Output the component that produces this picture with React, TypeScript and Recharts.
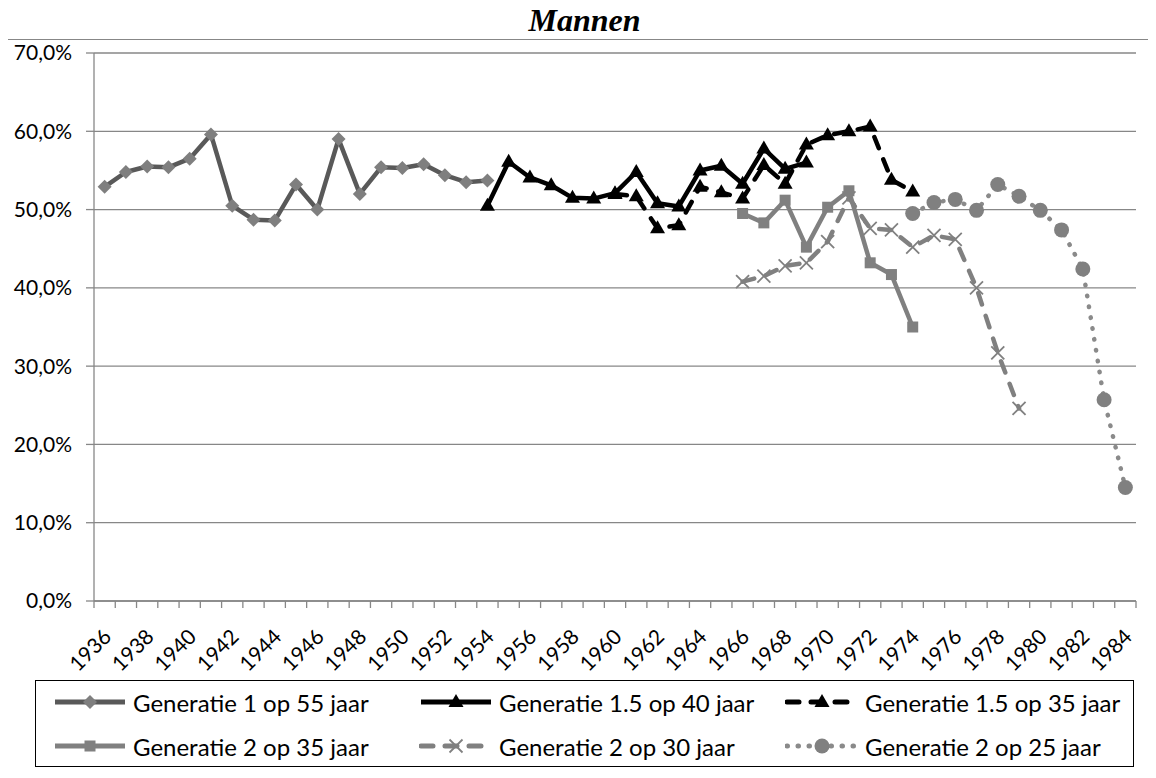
import React from 'react';
import { LineChart, Line, XAxis, YAxis, CartesianGrid } from 'recharts';

// categories (birth years) and axis ticks
const years = [
  1936, 1937, 1938, 1939, 1940, 1941, 1942, 1943, 1944, 1945, 1946, 1947, 1948, 1949, 1950, 1951, 1952,
  1953, 1954, 1955, 1956, 1957, 1958, 1959, 1960, 1961, 1962, 1963, 1964, 1965, 1966, 1967, 1968, 1969,
  1970, 1971, 1972, 1973, 1974, 1975, 1976, 1977, 1978, 1979, 1980, 1981, 1982, 1983, 1984,
];
const yearLabels = [
  1936, 1938, 1940, 1942, 1944, 1946, 1948, 1950, 1952, 1954, 1956, 1958, 1960, 1962, 1964, 1966, 1968,
  1970, 1972, 1974, 1976, 1978, 1980, 1982, 1984,
];
const yTicks = [0, 10, 20, 30, 40, 50, 60, 70];

// series values (%), each starting at its first birth year
const gen1Start = 1936;
const gen1 = [52.9, 54.8, 55.5, 55.4, 56.5, 59.6, 50.5, 48.7, 48.6, 53.2, 50.0, 59.0, 52.0, 55.4, 55.3, 55.8, 54.4, 53.5, 53.7];

const gen15a40Start = 1954;
const gen15a40 = [50.5, 56.1, 54.1, 53.1, 51.5, 51.4, 52.1, 54.8, 50.8, 50.4, 55.0, 55.6, 53.3, 57.8, 55.2, 56.0];

const gen15a35Start = 1960;
const gen15a35 = [52.0, 51.7, 47.6, 48.0, 52.9, 52.2, 51.4, 55.7, 53.3, 58.3, 59.5, 60.0, 60.6, 53.8, 52.3];

const gen2a35Start = 1966;
const gen2a35 = [49.5, 48.3, 51.2, 45.2, 50.3, 52.4, 43.2, 41.7, 35.0];

const gen2a30Start = 1966;
const gen2a30 = [40.8, 41.5, 42.8, 43.2, 45.9, 51.5, 47.6, 47.4, 45.2, 46.7, 46.2, 40.0, 31.7, 24.6];

const gen2a25Start = 1974;
const gen2a25 = [49.5, 50.9, 51.3, 49.9, 53.2, 51.7, 49.9, 47.4, 42.4, 25.7, 14.5];

const pick = (vals: number[], start: number, year: number) =>
  year >= start && year < start + vals.length ? vals[year - start] : null;

const data = years.map((year) => ({
  year,
  g1: pick(gen1, gen1Start, year),
  g15a40: pick(gen15a40, gen15a40Start, year),
  g15a35: pick(gen15a35, gen15a35Start, year),
  g2a35: pick(gen2a35, gen2a35Start, year),
  g2a30: pick(gen2a30, gen2a30Start, year),
  g2a25: pick(gen2a25, gen2a25Start, year),
}));

// tick marks sit between the categories, like Excel
const boundaries = years.map((y) => y - 0.5).concat(years[years.length - 1] + 0.5);
const xDomain = [boundaries[0], boundaries[boundaries.length - 1]];

const FONT = 'Lato, "Open Sans", sans-serif';
const AXIS = '#878787';

type Shape = 'diamond' | 'triangle' | 'square' | 'cross' | 'circle';

function Marker({ shape, cx, cy, color }: { shape: Shape; cx: number; cy: number; color: string }) {
  switch (shape) {
    case 'diamond':
      return <polygon points={`${cx},${cy - 7} ${cx + 7},${cy} ${cx},${cy + 7} ${cx - 7},${cy}`} fill={color} />;
    case 'triangle':
      return <polygon points={`${cx},${cy - 8} ${cx + 7.5},${cy + 5} ${cx - 7.5},${cy + 5}`} fill={color} />;
    case 'square':
      return <rect x={cx - 5.5} y={cy - 5.5} width={11} height={11} fill={color} />;
    case 'cross':
      return (
        <g stroke={color} strokeWidth={1.8}>
          <line x1={cx - 6.5} y1={cy - 6.5} x2={cx + 6.5} y2={cy + 6.5} />
          <line x1={cx - 6.5} y1={cy + 6.5} x2={cx + 6.5} y2={cy - 6.5} />
        </g>
      );
    default:
      return <circle cx={cx} cy={cy} r={7.5} fill={color} />;
  }
}

const series = [
  { key: 'g1', name: 'Generatie 1 op 55 jaar', stroke: '#595959', marker: '#7f7f7f', shape: 'diamond' as Shape, dash: undefined },
  { key: 'g15a40', name: 'Generatie 1.5 op 40 jaar', stroke: '#000000', marker: '#000000', shape: 'triangle' as Shape, dash: undefined },
  { key: 'g15a35', name: 'Generatie 1.5 op 35 jaar', stroke: '#000000', marker: '#000000', shape: 'triangle' as Shape, dash: '12 12' },
  { key: 'g2a35', name: 'Generatie 2 op 35 jaar', stroke: '#808080', marker: '#808080', shape: 'square' as Shape, dash: undefined },
  { key: 'g2a30', name: 'Generatie 2 op 30 jaar', stroke: '#808080', marker: '#808080', shape: 'cross' as Shape, dash: '12 12' },
  { key: 'g2a25', name: 'Generatie 2 op 25 jaar', stroke: '#8a8a8a', marker: '#808080', shape: 'circle' as Shape, dash: '0.5 10.5' },
];

const fmtPct = (v: number) => v.toFixed(1).replace('.', ',') + '%';

function YearTick(props: any) {
  const { x, y, payload } = props;
  const ax = x + 2;
  const ay = y + 23;
  return (
    <text
      x={ax}
      y={ay}
      transform={`rotate(-45, ${ax}, ${ay})`}
      textAnchor="end"
      dominantBaseline="central"
      fontSize={21}
      fontFamily={FONT}
      fill="#000"
    >
      {payload.value}
    </text>
  );
}

// tick marks only, no labels
function NoLabel() {
  return <g />;
}

function LegendBox() {
  return (
    <div
      style={{
        position: 'absolute',
        left: 27,
        top: 672,
        width: 1099,
        height: 87,
        boxSizing: 'border-box',
        border: '1.5px solid #000',
        fontFamily: FONT,
        fontSize: 24,
        color: '#000',
      }}
    >
      {series.map((s, i) => {
        const col = i % 3;
        const row = Math.floor(i / 3);
        return (
          <div
            key={s.key}
            style={{
              position: 'absolute',
              left: 17 + col * 366,
              top: 6 + row * 44,
              height: 30,
              display: 'flex',
              alignItems: 'center',
              whiteSpace: 'nowrap',
            }}
          >
            <svg width={74} height={24} style={{ marginRight: 6 }}>
              <line
                x1={2}
                y1={12}
                x2={72}
                y2={12}
                stroke={s.stroke}
                strokeWidth={5}
                strokeDasharray={s.dash}
                strokeLinecap={s.dash ? 'round' : 'butt'}
              />
              <Marker shape={s.shape} cx={37} cy={12} color={s.marker} />
            </svg>
            <span>{s.name}</span>
          </div>
        );
      })}
    </div>
  );
}

export default function App() {
  return (
    <div style={{ position: 'relative', width: 1148, height: 770 }}>
      <div
        style={{
          position: 'absolute',
          top: -4,
          left: 0,
          width: 1153,
          textAlign: 'center',
          fontFamily: '"Liberation Serif", "Times New Roman", serif',
          fontWeight: 'bold',
          fontStyle: 'italic',
          fontSize: 32,
          lineHeight: '32px',
        }}
      >
        Mannen
      </div>
      <div
        style={{
          position: 'absolute',
          top: 31,
          left: -1,
          width: 1160,
          height: 750,
          borderLeft: `1.5px solid ${AXIS}`,
          borderTop: `1.5px solid ${AXIS}`,
        }}
      />
      <div style={{ position: 'absolute', top: 0, left: 0 }}>
        <LineChart width={1148} height={770} data={data} margin={{ top: 45, right: 20, bottom: 117, left: 6 }}>
          <CartesianGrid vertical={false} stroke={AXIS} strokeWidth={1.3} xAxisId={0} />
          <XAxis
            xAxisId={0}
            type="number"
            dataKey="year"
            domain={xDomain}
            ticks={boundaries}
            interval={0}
            height={8}
            tick={<NoLabel />}
            tickSize={7}
            tickMargin={0}
            axisLine={{ stroke: AXIS, strokeWidth: 1.3 }}
            tickLine={{ stroke: AXIS, strokeWidth: 1.3 }}
            allowDataOverflow
          />
          <XAxis
            xAxisId={1}
            type="number"
            dataKey="year"
            domain={xDomain}
            ticks={yearLabels}
            interval={0}
            height={52}
            axisLine={false}
            tickLine={false}
            tickSize={0}
            tickMargin={0}
            tick={<YearTick />}
            allowDataOverflow
          />
          <YAxis
            domain={[0, 70]}
            ticks={yTicks}
            interval={0}
            width={80}
            tickSize={8}
            tickMargin={14}
            tickFormatter={fmtPct}
            axisLine={{ stroke: AXIS, strokeWidth: 1.3 }}
            tickLine={{ stroke: AXIS, strokeWidth: 1.3 }}
            tick={{ fontSize: 21, fill: '#000', fontFamily: FONT }}
          />
          {series.map((s) => (
            <Line
              key={s.key}
              xAxisId={1}
              type="linear"
              dataKey={s.key}
              name={s.name}
              stroke={s.stroke}
              strokeWidth={4.5}
              strokeDasharray={s.dash}
              strokeLinecap={s.dash ? 'round' : 'butt'}
              strokeLinejoin="round"
              activeDot={false}
              isAnimationActive={false}
              dot={(p: any) => {
                if (p.cx == null || p.cy == null || p.value == null) return <g key={`${s.key}-${p.index}`} />;
                return (
                  <g key={`${s.key}-${p.index}`}>
                    <Marker shape={s.shape} cx={p.cx} cy={p.cy} color={s.marker} />
                  </g>
                );
              }}
            />
          ))}
        </LineChart>
      </div>
      <LegendBox />
    </div>
  );
}
